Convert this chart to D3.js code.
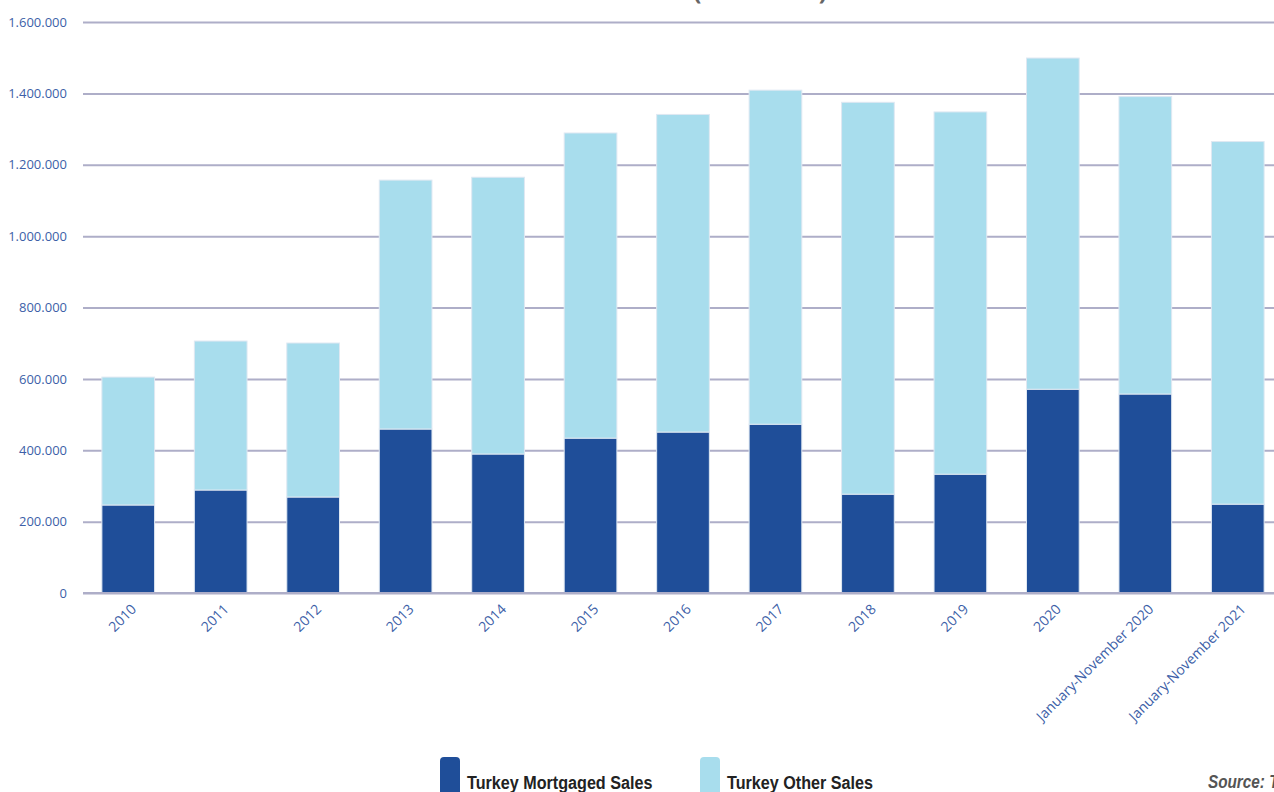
<!DOCTYPE html>
<html>
<head>
<meta charset="utf-8">
<script src="https://cdn.jsdelivr.net/npm/d3@7"></script>
<style>
  html, body { margin: 0; padding: 0; background: #fff; overflow: hidden; }
  svg { display: block; }
</style>
</head>
<body>
<svg id="chart" width="1274" height="792"></svg>
<script>
const categories = ["2010","2011","2012","2013","2014","2015","2016","2017","2018","2019","2020","January-November 2020","January-November 2021"];
const mortgagedSales = [246600, 288600, 269000, 459500, 389500, 434000, 451000, 473000, 277000, 333000, 571000, 557600, 249000];
const totalSales = [605000, 706000, 700500, 1157000, 1165000, 1289000, 1341000, 1409000, 1375000, 1348000, 1499000, 1391000, 1265000];
const otherSales = totalSales.map((t, i) => t - mortgagedSales[i]);
const seriesNames = ["Turkey Mortgaged Sales", "Turkey Other Sales"];
const yTicks = [0, 200000, 400000, 600000, 800000, 1000000, 1200000, 1400000, 1600000];
const titleText = "TURKEY HOUSE SALES (2010-2021)";
const sourceText = "Source: TÜİK";

const colors = ["#1f4e99", "#a8dded"];
const textBlue = "#3d5fa8";

const svg = d3.select("#chart");
const W = 1274, H = 792;

const x = d3.scaleBand().domain(categories).range([82, 1284]).paddingInner(0.43).paddingOuter(0.215);
const y = d3.scaleLinear().domain([0, 1600000]).range([593, 22]);

// title (mostly cut off at top, as in the reference)
svg.append("text")
  .attr("x", 430).attr("y", -0.5)
  .attr("font-family", "Open Sans, sans-serif")
  .attr("font-weight", "bold")
  .attr("font-size", 24)
  .attr("fill", "#666")
  .text(titleText);

// gridlines
const fmt = v => d3.format(",")(v).replace(/,/g, ".");
const yAxis = d3.axisLeft(y).tickValues(yTicks).tickSize(-(W - 83)).tickFormat(fmt);
const gy = svg.append("g").attr("transform", "translate(83,0)").call(yAxis);
gy.select(".domain").remove();
gy.selectAll(".tick line").attr("stroke", "#aeaec8").attr("stroke-width", 2);
gy.selectAll(".tick text")
  .attr("x", -16)
  .attr("fill", textBlue)
  .attr("font-family", "Open Sans, sans-serif")
  .attr("font-size", 13);

// stacked bars
const stackData = categories.map((c, i) => ({cat: c, m: mortgagedSales[i], o: otherSales[i]}));
const stack = d3.stack().keys(["m", "o"])(stackData);
svg.append("g").selectAll("g").data(stack).join("g")
  .attr("fill", (d, i) => colors[i])
  .selectAll("rect").data(d => d).join("rect")
  .attr("x", d => x(d.data.cat))
  .attr("width", x.bandwidth())
  .attr("y", d => y(d[1]))
  .attr("height", d => y(d[0]) - y(d[1]))
  .attr("stroke", "#dfe8f2")
  .attr("stroke-width", 1);

// baseline axis
const xAxis = d3.axisBottom(x).tickSize(0).tickSizeOuter(0);
const gx = svg.append("g").attr("transform", "translate(0,593)").call(xAxis);
gx.select(".domain").remove();
svg.append("line").attr("x1", 83).attr("x2", W).attr("y1", y(0)).attr("y2", y(0))
  .attr("stroke", "#aeaec8").attr("stroke-width", 2);
gx.selectAll(".tick text")
  .attr("fill", textBlue)
  .attr("font-family", "Open Sans, sans-serif")
  .attr("font-size", 14)
  .attr("text-anchor", "end")
  .attr("dy", 0)
  .attr("y", 0)
  .attr("transform", "translate(9,17) rotate(-45)");

// legend
const legendX = [440, 700];
const lg = svg.append("g");
seriesNames.forEach((name, i) => {
  lg.append("rect")
    .attr("x", legendX[i]).attr("y", 757)
    .attr("width", 20).attr("height", 42)
    .attr("rx", 4)
    .attr("fill", colors[i]);
  lg.append("text")
    .attr("transform", `translate(${legendX[i] + 27},789) scale(0.85,1)`)
    .attr("font-family", "Liberation Sans Narrow, Arial Narrow, sans-serif")
    .attr("font-weight", "bold")
    .attr("font-size", 19)
    .attr("fill", "#222")
    .text(name);
});

svg.append("text")
  .attr("transform", "translate(1208,788) scale(0.85,1)")
  .attr("font-family", "Liberation Sans Narrow, Arial Narrow, sans-serif")
  .attr("font-weight", "bold")
  .attr("font-style", "italic")
  .attr("font-size", 18)
  .attr("fill", "#555")
  .text(sourceText);
</script>
</body>
</html>
